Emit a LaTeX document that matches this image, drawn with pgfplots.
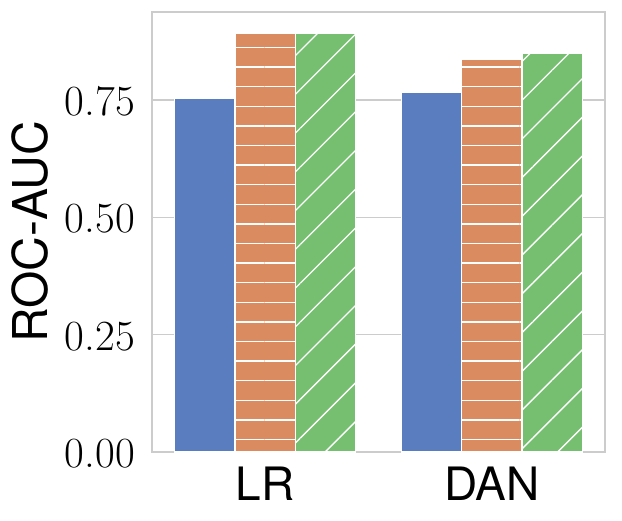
\documentclass[border=0pt]{standalone}
\usepackage{fontspec}
\usepackage{pgfplots}
\pgfplotsset{compat=1.18}
\usetikzlibrary{patterns.meta}
\newfontfamily\heros{TeX Gyre Heros}
\definecolor{cblue}{HTML}{597DBF}
\definecolor{corange}{HTML}{DA8B5F}
\definecolor{cgreen}{HTML}{76BF71}
\definecolor{gridgray}{HTML}{CCCCCC}
\begin{document}
\begin{tikzpicture}
\begin{axis}[
  scale only axis, width=453pt, height=440pt,
  clip=false,
  xmin=-0.5, xmax=1.5, ymin=0, ymax=0.9375,
  ybar, bar width=0.2667,
  xtick={0,1}, xticklabels={LR,DAN},
  ytick={0,0.25,0.5,0.75},
  /pgf/number format/assume math mode=true,
  yticklabel style={/pgf/number format/fixed, /pgf/number format/fixed zerofill, /pgf/number format/precision=2,
    font=\fontsize{43}{50}\selectfont, anchor=east, inner sep=0pt, xshift=-17pt, yshift=-1.5pt},
  xticklabel style={font=\heros\fontsize{46}{55}\selectfont, anchor=base, inner sep=0pt, yshift=-49pt},
  major tick length=0pt,
  ymajorgrids, grid style={color=gridgray, line width=1.6pt},
  axis line style={color=gridgray, line width=2pt},
]
\addplot[fill=cblue, draw=white, line width=1.2pt, bar shift=-0.2667] coordinates {(0,0.754) (1,0.767)};
\addplot[fill=corange, draw=white, line width=1.2pt, bar shift=0,
  postaction={pattern={Lines[angle=0,distance=19.6pt,line width=1.4pt,yshift=3pt]}, pattern color=white}] coordinates {(0,0.892) (1,0.836)};
\addplot[fill=cgreen, draw=white, line width=1.2pt, bar shift=0.2667,
  postaction={pattern={Lines[angle=45,distance=27.4pt,line width=1.4pt,yshift=15pt]}, pattern color=white}] coordinates {(0,0.891) (1,0.850)};
\node[rotate=90, anchor=base, inner sep=0pt, font=\heros\fontsize{48}{58}\selectfont] at ([xshift=-104pt]rel axis cs:0,0.5) {ROC-AUC};
\path ([shift={(-152pt,-69pt)}]rel axis cs:0,0) rectangle ([shift={(17pt,12pt)}]rel axis cs:1,1);
\end{axis}
\end{tikzpicture}
\end{document}
